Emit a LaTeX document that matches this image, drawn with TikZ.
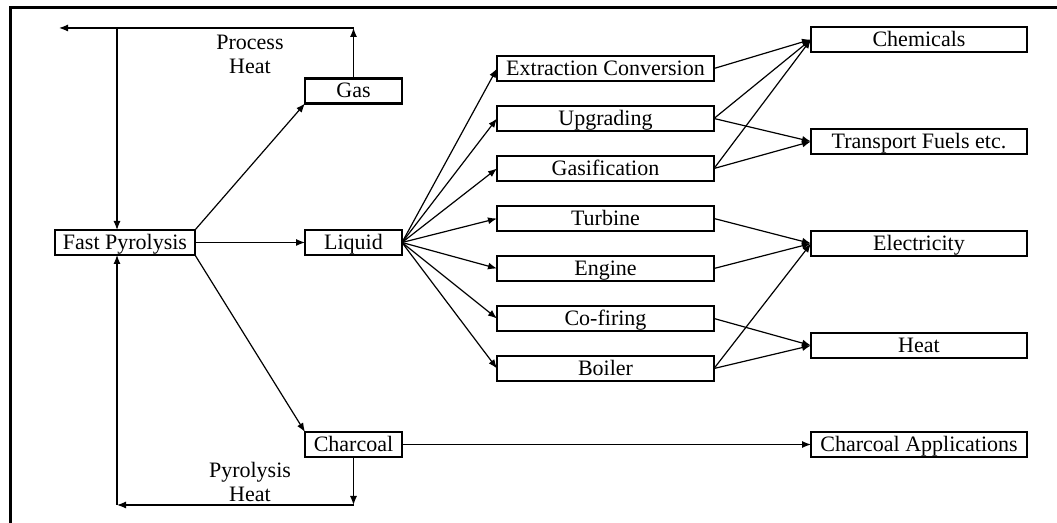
\documentclass[tikz,border=0pt]{standalone}
\usepackage{fontspec}
\setmainfont{Liberation Serif}
\usetikzlibrary{positioning,arrows.meta}

\begin{document}
\begin{tikzpicture}[x=0.5pt, y=-0.5pt, node distance = 12.5pt,
font=\fontsize{11}{12}\selectfont,
SmallBox/.style={draw, line width=1.1pt, minimum width=48.5pt, minimum height=12.5pt,
                text height=0.9em, text depth=0.2em, inner sep=0pt, outer sep=0pt},
MidBox/.style={SmallBox, minimum width=108.5pt},
EndBox/.style={SmallBox, minimum width=108pt},
Flow/.style={-{Latex[length=4.5pt, width=3.5pt]}, line width=0.6pt},]
\useasboundingbox (0,0) rectangle (1057,523);
\draw[line width=1.5pt] (1057,8) -- (10,8) -- (10,523);

\node [SmallBox, minimum width=70pt] (fp) at (125,242.5) {Fast Pyrolysis};
\node [SmallBox] (gas) at (353.5,91) {Gas};
\node [SmallBox] (liq) at (353.5,242.5) {Liquid};
\node [SmallBox] (char) at (353.5,444.5) {Charcoal};

\node [MidBox] (ext) at (605.5,68.5) {Extraction Conversion};
\node [MidBox, below=of ext] (upg) {Upgrading};
\node [MidBox, below=of upg] (gasi) {Gasification};
\node [MidBox, below=of gasi] (turb) {Turbine};
\node [MidBox, below=of turb] (eng) {Engine};
\node [MidBox, below=of eng] (cofi) {Co-firing};
\node [MidBox, below=of cofi] (boil) {Boiler};

\begin{scope}[node distance=38.5pt]
\node [EndBox] (chem) at (919,39.5) {Chemicals};
\node [EndBox, below=of chem] (fuel) {Transport Fuels etc.};
\node [EndBox, below=of fuel] (elec) {Electricity};
\node [EndBox, below=of elec] (heat) {Heat};
\end{scope}
\node [EndBox] (capp) at (919,444.5) {Charcoal Applications};

\coordinate (tR) at (353.5,28);
\coordinate (tM) at (117,28);
\coordinate (tL) at (59,28);
\coordinate (bR) at (353.5,505);
\coordinate (bL) at (117,505);
\node [align=center] (phLbl) at (250,54) {Process\\Heat};
\node [align=center] (pyLbl) at (250,482) {Pyrolysis\\Heat};

\draw [Flow] (gas.north) -- (tR);
\draw [Flow] (tR) -- (tL);
\draw [Flow] (tM) -- (fp.north -| tM);
\draw [Flow] (char.south) -- (bR);
\draw [Flow] (bR) -- (bL);
\draw [Flow] (bL) -- (fp.south -| bL);

\draw [Flow] (fp.north east) -- (gas.south west);
\draw [Flow] (fp.east) -- (liq.west);
\draw [Flow] (fp.south east) -- (char.north west);

\foreach \m in {ext,upg,gasi,turb,eng,cofi,boil}
  \draw [Flow] (liq.east) -- (\m.west);

\draw [Flow] (ext.east) -- (chem.west);
\draw [Flow] (upg.east) -- (chem.west);
\draw [Flow] (upg.east) -- (fuel.west);
\draw [Flow] (gasi.east) -- (chem.west);
\draw [Flow] (gasi.east) -- (fuel.west);
\draw [Flow] (turb.east) -- (elec.west);
\draw [Flow] (eng.east) -- (elec.west);
\draw [Flow] (cofi.east) -- (heat.west);
\draw [Flow] (boil.east) -- (elec.west);
\draw [Flow] (boil.east) -- (heat.west);
\draw [Flow] (char.east) -- (capp.west);
\end{tikzpicture}
\end{document}
